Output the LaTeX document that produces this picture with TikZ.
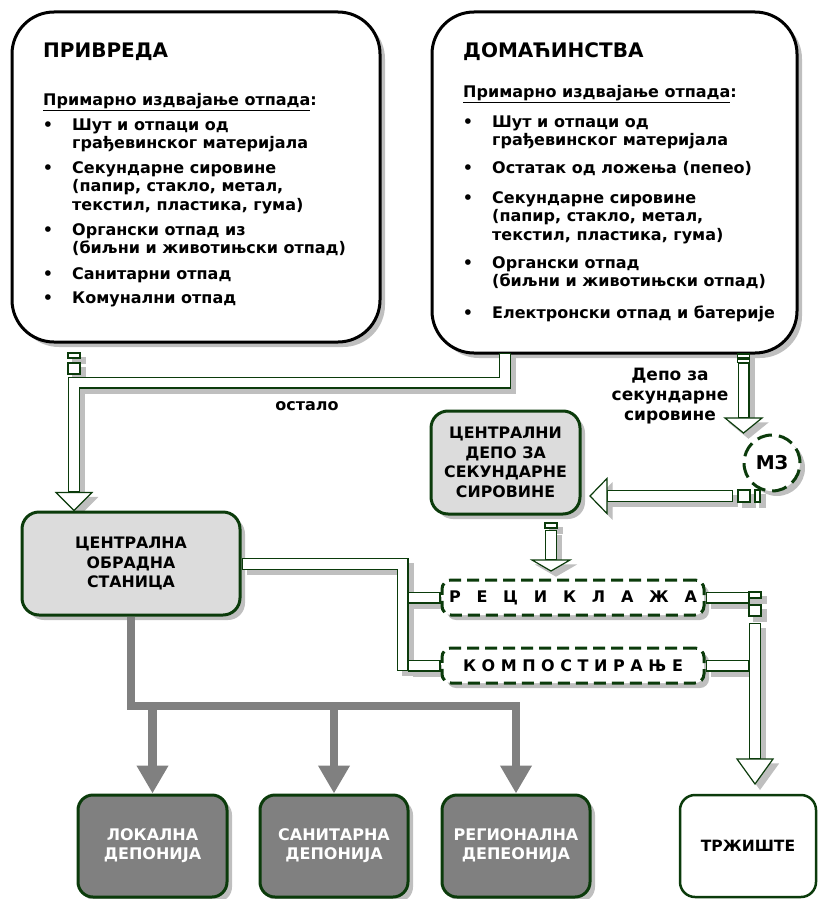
\documentclass[tikz,border=0pt]{standalone}
\usepackage{fontspec}
\setmainfont{DejaVu Sans}
\usetikzlibrary{shadows,arrows.meta}
\definecolor{dg}{HTML}{0B3B0B}
\definecolor{shg}{HTML}{BFBFBF}
\definecolor{lgr}{HTML}{DCDCDC}
\definecolor{mgr}{HTML}{808080}
\pgfdeclarelayer{bg}
\pgfsetlayers{bg,main}
\newcommand\fs[2]{\fontsize{#1pt}{#2pt}\selectfont}
\newcommand\itm[4]{%
  \node[txt,anchor=base west] (#1) at (#2,#3) {\begin{tabular}[t]{@{}l@{}}#4\end{tabular}};
  \node[txt,anchor=base] (#1b) at (#2-24,#3) {•};}
\newcommand\conns{%
  \draw[stripe] (68,353) rectangle (80,358);
  \draw[stripe] (68,363) rectangle (80,374);
  \draw[bar] (a0) |- (a1) -- (a2);
  \draw[headst] (aT) -- ++(-18,-18) -- ++(36,0) -- cycle;
  \draw[stripe] (737.5,354) rectangle (749.5,358);
  \draw[stripe] (737.5,359.5) rectangle (749.5,362.5);
  \draw[bar] (b0) -- (b1);
  \draw[headst] (bT) -- ++(-18.5,-15) -- ++(37,0) -- cycle;
  \draw[stripe] (755,490) rectangle (760,502);
  \draw[stripe] (738,490) rectangle (750,502);
  \draw[bar] (c0) -- (c1);
  \draw[headst] (cT) -- ++(17,-17.5) -- ++(0,35) -- cycle;
  \draw[stripe] (545,523) rectangle (557,528);
  \draw[bar] (d0) -- (d1);
  \draw[headst] (dT) -- ++(-19,-11) -- ++(38,0) -- cycle;
  \draw[bar] (e0) -| (e1);
  \draw[bar] (e2) -- (e3);
  \draw[bar] (e4) -- (e5);
  \draw[bar] (f0) -- (f1);
  \draw[bar] (f2) -- (f3);
  \draw[stripe] (749,592) rectangle (761,598);
  \draw[stripe] (749,605) rectangle (761,616);
  \draw[bar] (f4) -- (f5);
  \draw[headst] (fT) -- ++(-18,-25) -- ++(36,0) -- cycle;
}
\tikzset{
  shd/.style={drop shadow={shadow xshift=5pt,shadow yshift=-5pt,fill=shg,opacity=1}},
  bigbox/.style={draw=black,line width=3pt,rounded corners=42pt,fill=white,shd,inner sep=0pt},
  gbox/.style={draw=dg,line width=3pt,rounded corners=17pt,fill=lgr,shd,align=center,inner sep=0pt,font=\bfseries\fs{15.8}{19.5}},
  dkbox/.style={draw=dg,line width=3pt,rounded corners=15pt,fill=mgr,text=white,shd,align=center,inner sep=0pt,font=\bfseries\fs{16}{19}},
  wbox/.style={draw=dg,line width=2.5pt,rounded corners=15pt,fill=white,align=center,inner sep=0pt,font=\bfseries\fs{15.5}{19}},
  dbox/.style={draw=dg,line width=3pt,dash pattern=on 12pt off 6pt,rounded corners=9pt,fill=white,shd,inner sep=0pt,font=\bfseries\fs{16}{18}},
  mzst/.style={circle,draw=dg,line width=3pt,dash pattern=on 15pt off 7pt,fill=white,shd,minimum size=56pt,inner sep=0pt,font=\bfseries\fs{19}{22}},
  txt/.style={inner sep=0pt,font=\bfseries\fs{16}{18.5}},
  ttl/.style={inner sep=0pt,font=\bfseries\fs{20}{22}},
  bar/.style={draw=dg,line width=1.2pt,double=white,double distance=9.6pt,line cap=rect,line join=miter},
  headst/.style={draw=dg,line width=1.2pt,fill=white,line join=miter},
  stripe/.style={draw=dg,line width=1.2pt,fill=white},
  gline/.style={draw=mgr,line width=8.5pt,line join=miter,-{Triangle[width=30pt,length=28pt]}},
}
\begin{document}
\begin{tikzpicture}[x=1pt,y=-1pt]
\useasboundingbox (0,0) rectangle (824,899);
% boxes
\node[bigbox,minimum width=368pt,minimum height=330pt] (priv) at (196,177) {};
\node[bigbox,minimum width=365pt,minimum height=341pt] (dom) at (614.5,182.5) {};
\node[gbox,minimum width=218pt,minimum height=103pt] (cos) at (131,563.5) {ЦЕНТРАЛНА\\ОБРАДНА\\СТАНИЦА};
\node[gbox,minimum width=149pt,minimum height=103pt] (cdep) at (505.5,462.5) {ЦЕНТРАЛНИ\\ДЕПО ЗА\\СЕКУНДАРНЕ\\СИРОВИНЕ};
\node[mzst] (mz) at (772,463) {МЗ};
\node[dbox,minimum width=262pt,minimum height=35pt] (rec) at (573,597.5) {\makebox[248pt][s]{Р\hfill Е\hfill Ц\hfill И\hfill К\hfill Л\hfill А\hfill Ж\hfill А}};
\node[dbox,minimum width=262pt,minimum height=35pt] (komp) at (573,665.5) {\makebox[220pt][s]{К\hfill О\hfill М\hfill П\hfill О\hfill С\hfill Т\hfill И\hfill Р\hfill А\hfill Њ\hfill Е}};
\node[dkbox,minimum width=149pt,minimum height=102pt] (lok) at (152.5,846) {ЛОКАЛНА\\ДЕПОНИЈА};
\node[dkbox,minimum width=148pt,minimum height=102pt] (san) at (334,846) {САНИТАРНА\\ДЕПОНИЈА};
\node[dkbox,minimum width=148pt,minimum height=102pt] (reg) at (516,846) {РЕГИОНАЛНА\\ДЕПЕОНИЈА};
\node[wbox,minimum width=136pt,minimum height=102pt] (trz) at (748,846) {ТРЖИШТЕ};
% texts
\node[ttl,anchor=base west] (t1) at (43,58) {ПРИВРЕДА};
\node[ttl,anchor=base west] (t2) at (463,58) {ДОМАЋИНСТВА};
\node[txt,anchor=base west] (s1) at (43,105) {\underline{Примарно издвајање отпада}:};
\node[txt,anchor=base west] (s2) at (463,97) {\underline{Примарно издвајање отпада}:};
\itm{l1}{72}{130}{Шут и отпаци од\\грађевинског материјала}
\itm{l2}{72}{173}{Секундарне сировине\\(папир, стакло, метал,\\текстил, пластика, гума)}
\itm{l3}{72}{235}{Органски отпад из\\(биљни и животињски отпад)}
\itm{l4}{72}{279}{Санитарни отпад}
\itm{l5}{72}{303}{Комунални отпад}
\itm{r1}{492}{127}{Шут и отпаци од\\грађевинског материјала}
\itm{r2}{492}{173}{Остатак од ложења (пепео)}
\itm{r3}{492}{203}{Секундарне сировине\\(папир, стакло, метал,\\текстил, пластика, гума)}
\itm{r4}{492}{268}{Органски отпад\\(биљни и животињски отпад)}
\itm{r5}{492}{318}{Електронски отпад и батерије}
\node[txt] (ost) at (307,406) {остало};
\node[txt,align=center,font=\bfseries\fs{17}{20}] (dep) at (670,396) {Депо за\\секундарне\\сировине};
% coordinates
\coordinate (a0) at (505,359);
\coordinate (a1) at (74,382.5);
\coordinate (a2) at (74,486.5);
\path (cos.north) ++(-57,0) coordinate (aT);
\coordinate (b0) at (743.5,369);
\coordinate (b1) at (743.5,412);
\coordinate (bT) at (743.5,433);
\coordinate (c0) at (727,496);
\coordinate (c1) at (613,496);
\coordinate (cT) at (590,496);
\coordinate (d0) at (551,536);
\coordinate (d1) at (551,554);
\coordinate (dT) at (551,571);
\coordinate (e0) at (247.5,564);
\coordinate (e1) at (402.5,665);
\coordinate (e2) at (413.5,597.5);
\path (rec.west) ++(-6,0) coordinate (e3);
\coordinate (e4) at (413.5,665.5);
\path (komp.west) ++(-6,0) coordinate (e5);
\path (rec.east) ++(6,0) coordinate (f0);
\coordinate (f1) at (743.5,597.5);
\path (komp.east) ++(6,0) coordinate (f2);
\coordinate (f3) at (743.5,665.5);
\coordinate (f4) at (755,629);
\coordinate (f5) at (755,753);
\coordinate (fT) at (755,784);
\coordinate (gj) at (0,706);
% gray lines
\draw[gline] (cos.south) -- (cos.south |- gj) -| (reg.north);
\draw[gline] (lok.north |- gj) -- (lok.north);
\draw[gline] (san.north |- gj) -- (san.north);
% connector shadows
\begin{pgfonlayer}{bg}
\begin{scope}[transform canvas={shift={(5,5)}},
  bar/.style={draw=shg,line width=12pt,line cap=rect,line join=miter},
  headst/.style={draw=shg,fill=shg,line width=1.2pt,line join=miter},
  stripe/.style={draw=shg,fill=shg,line width=1.2pt}]
\conns
\end{scope}
\end{pgfonlayer}
\conns
\end{tikzpicture}
\end{document}
